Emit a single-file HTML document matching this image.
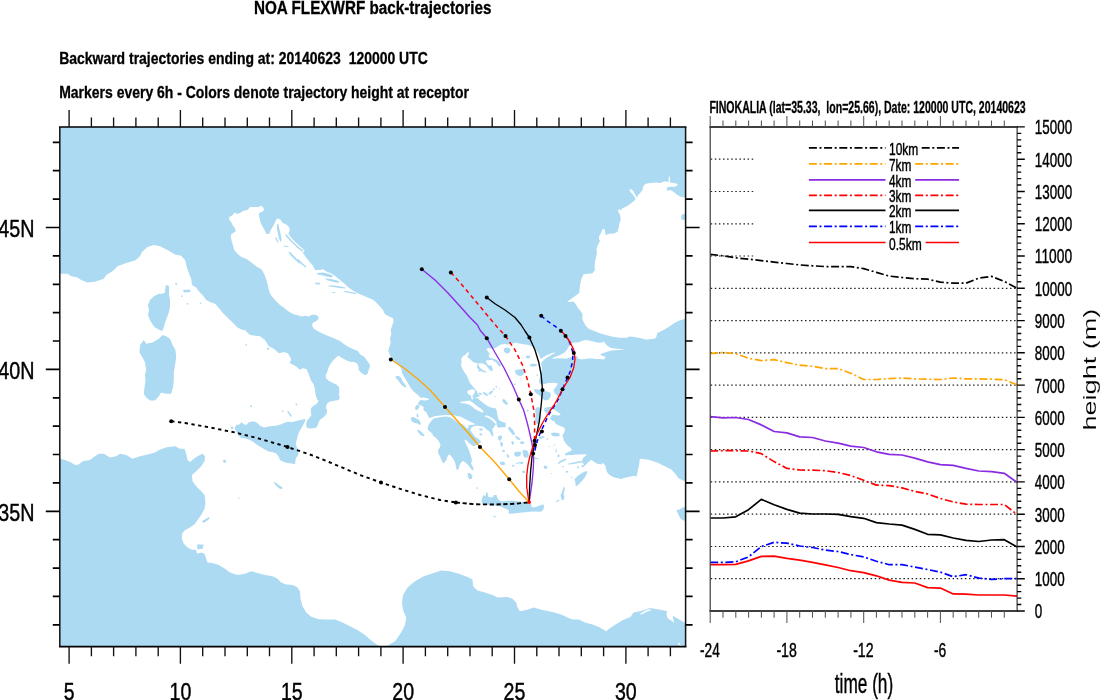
<!DOCTYPE html>
<html><head><meta charset="utf-8"><title>NOA FLEXWRF back-trajectories</title>
<style>html,body{margin:0;padding:0;background:#fff;}body{width:1100px;height:700px;overflow:hidden;}</style></head>
<body>
<svg width="1100" height="700" viewBox="0 0 1100 700" style="display:block;will-change:transform;font-family:'Liberation Sans',sans-serif">
<rect width="1100" height="700" fill="#fff"/>
<defs><clipPath id="mc"><rect x="59.8" y="127.0" width="625.8000000000001" height="519.7"/></clipPath></defs>
<g clip-path="url(#mc)">
<rect x="59.8" y="127.0" width="625.8000000000001" height="519.7" fill="#abdaf2"/>
<path fill="#fff" d="M55.0 273.7 L60.0 273.8 L67.5 273.8 L71.2 276.2 L77.5 277.5 L81.2 280.0 L87.5 282.5 L95.0 281.8 L103.8 278.8 L106.2 275.0 L112.5 271.2 L117.5 266.2 L126.2 263.0 L135.0 260.5 L140.0 256.2 L142.0 252.0 L147.5 247.0 L153.8 245.0 L160.0 246.2 L167.5 250.0 L175.0 254.5 L181.2 255.8 L185.0 260.0 L187.0 267.5 L188.8 273.0 L191.2 278.8 L192.0 285.0 L196.2 287.5 L198.8 291.2 L202.5 295.0 L206.2 300.0 L210.0 302.0 L215.0 303.8 L218.8 308.0 L222.5 312.5 L226.2 316.2 L230.0 320.0 L233.8 323.8 L237.5 327.5 L242.5 330.0 L245.0 330.0 L250.0 335.0 L260.0 336.2 L265.0 340.0 L268.8 346.2 L273.8 348.8 L278.8 353.2 L280.0 352.9 L284.3 352.1 L287.9 353.6 L290.0 356.4 L291.1 359.3 L289.7 362.9 L293.6 365.0 L297.1 367.1 L299.3 369.7 L302.9 368.3 L306.4 368.9 L307.9 372.1 L309.3 375.7 L310.7 380.0 L313.6 384.3 L315.0 389.3 L315.4 394.3 L317.4 400.0 L318.6 400.0 L317.1 403.6 L313.6 405.7 L311.1 407.9 L310.7 411.4 L311.4 415.0 L309.3 417.9 L306.9 420.7 L306.1 425.0 L307.1 427.9 L311.4 428.6 L315.7 427.9 L317.9 425.0 L318.6 422.1 L320.7 419.3 L323.6 417.1 L326.4 414.3 L327.1 410.7 L326.0 407.1 L327.1 403.6 L330.0 401.4 L334.3 400.7 L338.6 400.0 L340.0 397.1 L338.9 395.7 L339.3 391.4 L338.9 387.1 L336.4 384.6 L332.9 382.9 L328.6 380.7 L326.0 377.9 L325.7 375.0 L327.4 371.4 L328.3 367.9 L330.7 363.6 L333.6 360.0 L336.4 357.1 L338.6 355.7 L342.1 357.9 L345.7 360.0 L350.0 361.7 L354.3 362.1 L357.1 363.6 L358.6 367.1 L358.6 370.0 L361.4 372.9 L365.0 375.0 L367.4 374.3 L368.6 370.0 L370.0 366.4 L369.3 363.6 L367.1 360.7 L364.3 357.1 L360.0 354.3 L357.9 351.1 L353.6 349.3 L348.6 347.1 L344.3 344.3 L340.0 341.1 L335.7 338.9 L330.7 337.1 L325.7 335.0 L321.4 332.9 L317.1 330.7 L313.6 328.6 L312.1 325.7 L312.6 322.9 L315.7 321.4 L318.3 319.3 L318.6 316.9 L316.4 315.0 L312.1 314.7 L308.6 316.4 L305.0 315.7 L301.4 316.4 L298.6 315.4 L293.6 314.3 L288.6 311.4 L284.3 307.9 L280.0 305.0 L275.0 300.0 L271.4 295.7 L269.3 291.4 L267.9 285.7 L266.4 280.0 L264.3 274.3 L261.4 269.3 L256.4 266.4 L252.1 262.9 L247.1 259.3 L241.4 257.1 L237.1 253.6 L234.3 250.0 L232.9 245.0 L231.4 240.0 L230.7 235.0 L232.9 232.9 L235.7 231.4 L235.0 227.9 L232.9 225.7 L231.1 222.1 L229.3 220.0 L229.3 217.1 L232.1 215.4 L234.3 212.9 L236.4 212.6 L235.7 214.3 L240.0 212.9 L243.6 210.7 L247.9 209.7 L250.0 207.1 L254.3 206.9 L258.6 207.1 L260.7 205.7 L262.9 206.9 L264.0 209.3 L262.9 211.4 L260.0 212.6 L258.6 214.3 L259.7 218.6 L260.7 222.9 L262.9 227.1 L265.0 230.7 L266.4 234.0 L269.3 234.0 L270.3 230.7 L272.1 227.9 L274.0 224.3 L275.7 220.7 L277.1 218.6 L280.0 219.3 L281.7 221.4 L282.9 222.9 L286.4 224.6 L289.3 227.4 L289.7 230.7 L288.3 233.6 L291.1 237.4 L294.3 241.1 L297.9 244.6 L302.1 247.9 L304.6 250.7 L302.9 252.9 L305.7 257.1 L309.3 261.4 L312.9 265.7 L315.0 270.0 L320.0 270.0 L322.9 269.3 L326.4 271.4 L331.4 273.6 L335.7 276.4 L340.0 280.0 L344.3 283.6 L347.9 287.1 L352.1 290.0 L357.1 292.9 L360.0 294.3 L373.6 300.0 L377.1 303.6 L380.0 306.4 L382.9 310.0 L385.0 314.3 L389.3 316.4 L392.9 317.9 L393.6 321.4 L392.1 325.7 L390.7 330.0 L391.4 334.3 L390.0 338.6 L390.7 342.9 L389.3 347.1 L388.3 351.4 L390.0 355.0 L391.4 357.9 L394.3 361.4 L398.6 365.0 L401.4 368.6 L402.1 372.9 L404.3 377.1 L406.4 380.7 L408.6 384.3 L410.7 387.9 L413.6 391.4 L417.1 394.3 L420.0 397.1 L420.0 397.8 L424.0 397.6 L428.5 398.4 L428.7 400.0 L424.5 400.6 L420.5 400.0 L419.0 401.5 L418.0 404.0 L420.0 405.5 L422.5 405.8 L424.0 408.0 L423.2 409.5 L424.8 411.2 L426.2 412.2 L427.5 414.5 L428.5 417.0 L430.0 418.0 L434.5 416.2 L440.0 415.5 L446.5 415.0 L450.0 415.2 L454.0 415.2 L457.0 416.0 L460.0 416.5 L464.0 418.5 L468.0 420.5 L472.0 422.5 L474.5 423.5 L474.8 424.7 L473.5 424.8 L470.0 425.1 L467.8 425.8 L468.6 427.8 L467.0 428.5 L464.8 426.3 L462.0 424.2 L458.0 422.5 L455.5 420.8 L453.0 419.0 L450.5 417.5 L447.0 416.5 L443.0 416.8 L440.0 417.2 L437.0 417.8 L434.5 418.2 L432.5 419.5 L431.0 421.5 L429.0 424.0 L428.0 426.5 L427.7 429.0 L428.0 430.0 L430.0 431.5 L432.5 434.0 L433.0 436.0 L435.0 437.0 L437.0 439.0 L439.0 441.5 L440.5 444.5 L440.0 447.0 L438.5 449.0 L438.0 451.5 L438.5 454.0 L440.0 456.0 L441.0 459.0 L442.5 462.0 L443.5 463.5 L445.0 461.5 L446.5 460.0 L447.0 457.5 L448.5 455.0 L450.0 454.5 L451.5 456.5 L453.0 458.5 L454.5 461.0 L455.5 464.0 L456.0 467.0 L456.5 469.5 L458.0 470.0 L459.0 468.0 L459.5 465.0 L461.0 462.5 L463.0 461.0 L465.0 462.0 L467.0 464.0 L469.0 466.0 L470.5 468.0 L472.0 470.0 L473.5 470.0 L473.5 468.0 L472.0 465.5 L471.0 463.0 L472.0 461.0 L471.5 458.0 L470.5 455.0 L469.5 452.0 L468.5 449.0 L467.0 446.0 L465.5 443.0 L464.5 440.0 L465.5 439.5 L467.5 441.5 L469.5 443.5 L471.5 445.0 L473.5 446.2 L475.5 445.5 L477.5 444.0 L479.5 443.5 L481.0 442.0 L480.0 440.0 L478.0 439.0 L476.0 437.5 L474.5 436.0 L473.0 434.0 L471.5 432.0 L470.5 430.0 L471.0 428.5 L472.0 427.0 L474.5 426.2 L476.5 425.5 L479.0 426.0 L482.0 426.2 L484.5 427.5 L486.5 429.5 L489.0 431.0 L490.5 433.0 L491.5 435.5 L492.5 436.5 L493.0 436.8 L493.4 434.6 L493.0 432.5 L492.3 430.6 L492.6 428.8 L493.7 427.4 L494.8 425.5 L496.3 424.1 L497.0 425.9 L498.1 427.4 L499.9 427.7 L502.1 427.0 L504.6 427.4 L505.7 426.3 L505.7 424.1 L505.4 422.6 L503.5 422.3 L501.4 421.5 L499.5 420.5 L498.5 419.0 L497.7 416.8 L497.4 414.6 L497.0 412.5 L496.6 410.3 L495.9 408.5 L494.1 408.1 L491.9 407.7 L489.7 407.0 L487.5 405.9 L485.4 404.5 L483.2 403.0 L481.4 401.5 L479.5 399.7 L478.1 398.3 L475.9 397.9 L473.7 398.3 L472.3 399.4 L471.5 398.8 L476.0 397.5 L479.0 396.5 L480.0 395.5 L477.5 393.5 L477.0 391.5 L475.0 389.0 L472.5 386.0 L470.0 383.0 L468.5 379.5 L467.0 376.0 L465.0 373.0 L463.0 370.0 L462.0 368.0 L461.0 365.0 L461.5 362.0 L461.2 359.0 L462.5 356.5 L465.0 355.0 L467.0 353.0 L468.0 352.0 L468.6 352.2 L468.8 354.5 L467.0 356.8 L469.0 358.2 L471.0 360.0 L473.0 362.0 L475.0 362.8 L477.0 363.0 L477.5 364.5 L476.8 367.0 L477.5 368.5 L479.0 369.5 L478.0 371.2 L479.5 371.5 L481.0 371.0 L483.0 372.0 L485.0 372.5 L486.8 372.5 L486.0 371.5 L484.0 370.5 L482.0 369.5 L480.5 368.2 L479.2 366.5 L478.5 365.0 L478.0 363.8 L479.0 363.2 L481.0 363.2 L483.0 363.5 L484.5 364.2 L486.0 365.0 L487.0 366.5 L488.0 368.0 L489.5 369.5 L491.0 371.0 L492.0 371.2 L492.8 370.0 L492.5 368.5 L491.8 367.0 L492.0 365.8 L490.5 365.5 L489.0 365.5 L487.8 364.8 L487.0 363.5 L486.2 362.0 L486.0 360.8 L487.0 360.2 L489.0 360.2 L491.0 360.0 L492.0 359.5 L493.0 360.5 L494.5 361.5 L496.0 362.2 L497.0 363.5 L498.0 365.0 L499.2 366.5 L500.5 366.0 L501.0 364.8 L500.0 363.5 L499.0 362.0 L497.8 360.8 L496.5 359.8 L495.0 359.2 L493.5 358.8 L492.0 358.2 L490.5 358.0 L489.2 357.5 L488.5 356.2 L489.0 355.0 L489.8 354.0 L489.0 353.0 L488.0 351.5 L487.0 350.2 L486.5 349.2 L487.5 348.2 L489.2 348.0 L491.0 348.5 L492.5 348.8 L494.5 348.2 L496.5 347.2 L498.5 346.0 L499.5 345.0 L501.5 344.5 L504.5 344.0 L507.0 344.5 L510.0 344.0 L513.5 343.5 L516.0 342.5 L519.0 343.5 L522.0 344.0 L525.5 344.5 L528.5 345.0 L531.5 346.0 L534.0 347.5 L536.0 349.5 L537.5 352.0 L539.0 354.5 L540.0 357.5 L540.5 359.0 L543.0 357.5 L546.0 355.5 L549.5 354.0 L553.0 352.8 L555.0 352.5 L554.5 353.5 L551.5 355.0 L548.0 357.0 L545.0 359.0 L542.5 361.2 L541.0 363.5 L541.5 365.0 L542.0 368.0 L541.5 371.0 L541.0 374.0 L540.0 376.5 L539.5 379.0 L539.0 382.0 L539.5 383.5 L544.0 384.0 L549.0 383.0 L554.0 382.8 L558.0 383.5 L557.0 385.5 L555.0 388.0 L553.5 390.0 L554.5 393.0 L556.5 395.0 L559.0 398.0 L559.5 401.0 L557.5 403.0 L556.0 404.5 L555.0 407.0 L553.0 409.0 L553.0 409.0 L555.0 410.0 L557.5 412.0 L560.0 413.5 L560.5 415.0 L558.0 415.5 L555.0 415.0 L552.5 414.5 L551.0 416.5 L550.0 419.0 L552.0 420.5 L554.5 421.2 L555.5 423.5 L558.0 425.0 L562.0 426.5 L564.5 428.0 L565.0 430.5 L564.0 433.0 L562.5 435.0 L563.0 437.5 L564.0 440.5 L565.5 443.0 L567.0 445.0 L569.5 447.0 L572.0 449.5 L571.0 451.0 L568.0 452.0 L565.5 453.5 L564.0 455.0 L564.5 454.5 L566.0 455.5 L569.0 455.0 L572.0 455.0 L576.0 454.5 L580.0 454.5 L584.0 454.2 L587.0 454.5 L585.5 456.0 L583.5 457.5 L582.5 459.5 L582.0 461.5 L580.0 461.0 L576.0 462.0 L572.0 462.8 L568.5 463.5 L568.0 464.5 L572.0 464.2 L576.0 463.5 L580.0 462.8 L582.5 462.5 L584.0 464.5 L582.5 466.5 L581.5 467.5 L584.0 466.5 L586.0 464.5 L588.0 462.5 L590.0 460.8 L591.5 459.8 L593.0 461.0 L595.0 462.5 L598.0 464.0 L601.0 464.5 L602.5 463.0 L604.0 464.0 L605.5 466.0 L606.0 469.0 L607.0 472.0 L608.5 474.0 L610.5 475.5 L613.0 477.0 L616.0 477.8 L619.0 478.5 L621.0 479.0 L624.0 478.0 L627.0 477.2 L630.0 476.8 L634.0 475.8 L636.6 476.6 L637.8 470.8 L639.1 464.4 L639.8 459.3 L641.0 458.8 L649.4 459.9 L657.1 462.5 L664.8 466.3 L671.3 469.6 L675.1 473.4 L678.3 477.9 L682.8 480.5 L690.0 482.0 L690.0 624.0 L685.4 623.0 L680.0 620.0 L672.5 615.5 L666.5 611.0 L659.0 609.5 L650.0 608.0 L641.0 611.0 L633.5 612.5 L630.5 617.0 L623.0 620.0 L615.5 624.5 L609.5 628.4 L606.2 631.2 L600.0 627.5 L592.5 624.5 L585.0 622.5 L578.8 619.5 L572.5 619.5 L567.5 617.5 L561.2 614.5 L552.5 612.0 L542.5 610.0 L533.8 607.5 L526.2 610.0 L520.0 611.2 L517.5 607.5 L516.2 602.5 L512.5 598.8 L507.5 597.0 L497.5 597.5 L492.5 595.0 L485.0 592.5 L477.5 590.5 L473.0 586.2 L472.5 579.5 L467.5 577.0 L458.8 573.8 L450.0 571.2 L441.2 570.5 L433.8 573.0 L423.8 576.2 L415.0 581.2 L407.5 587.5 L403.0 595.0 L402.0 602.5 L403.0 610.0 L406.2 617.5 L405.0 625.0 L401.2 632.5 L395.0 641.2 L387.5 645.8 L381.2 646.2 L377.5 645.0 L371.2 640.5 L365.0 635.0 L357.5 630.0 L350.0 626.2 L342.5 622.5 L335.0 619.5 L327.5 619.5 L318.8 619.2 L311.2 616.8 L306.2 612.5 L302.5 606.2 L300.5 598.8 L300.0 591.2 L297.0 587.0 L292.5 585.0 L286.2 584.5 L281.2 582.5 L277.5 578.8 L272.5 576.2 L265.0 575.0 L257.5 573.0 L251.2 571.2 L245.0 573.8 L237.5 575.0 L230.0 572.5 L225.0 568.8 L218.8 565.0 L212.5 563.0 L207.5 562.5 L206.2 558.8 L204.5 553.8 L201.2 552.5 L197.0 553.8 L196.2 550.0 L191.2 549.5 L187.5 547.5 L183.8 543.8 L181.8 538.8 L182.0 533.8 L185.0 530.0 L190.0 527.5 L195.0 523.8 L197.5 520.0 L201.2 515.0 L204.5 508.8 L205.5 502.5 L204.5 495.0 L201.2 491.2 L196.2 486.2 L192.5 481.2 L192.0 475.0 L196.2 471.2 L201.2 466.2 L204.5 461.2 L205.0 456.2 L202.5 453.8 L197.5 456.2 L193.8 458.8 L190.0 462.0 L187.5 460.0 L186.2 453.8 L184.5 448.8 L180.0 448.8 L175.0 446.2 L167.5 447.0 L160.0 449.5 L155.0 452.5 L147.5 454.5 L140.0 456.2 L132.5 458.8 L126.2 455.0 L120.0 453.8 L116.2 456.2 L110.0 457.5 L103.8 453.8 L98.8 453.8 L95.0 456.2 L90.0 460.0 L82.5 461.2 L78.8 464.5 L75.0 465.0 L71.2 462.5 L65.0 460.0 L60.0 458.8 L55.0 458.8Z"/>
<path fill="#fff" d="M685.8 197.4 L681.1 197.0 L677.1 194.7 L673.2 191.5 L670.1 190.0 L666.9 190.8 L666.9 187.6 L670.1 186.8 L674.8 186.8 L677.6 185.3 L677.1 183.7 L673.2 182.9 L670.1 182.6 L669.7 176.6 L668.8 176.6 L668.5 182.1 L664.6 181.3 L660.6 182.9 L655.9 182.6 L650.4 182.9 L645.7 183.7 L643.3 186.0 L642.5 190.0 L640.2 193.1 L637.8 195.5 L637.0 197.8 L635.5 195.2 L633.9 192.0 L631.5 189.2 L629.5 189.2 L630.0 191.5 L632.3 193.9 L634.7 197.0 L635.5 199.4 L633.1 201.8 L630.0 204.1 L626.8 206.2 L622.9 208.1 L620.5 210.4 L619.0 208.8 L617.9 211.2 L619.4 213.6 L620.5 216.7 L620.5 220.6 L619.0 224.6 L618.5 230.1 L618.5 227.9 L617.4 231.8 L614.2 233.4 L609.5 233.8 L605.6 234.9 L604.8 229.4 L602.5 229.1 L601.2 232.6 L599.0 236.5 L599.0 240.4 L600.6 240.1 L597.7 245.2 L596.5 249.1 L596.9 253.0 L595.8 257.7 L594.9 262.5 L594.6 267.2 L594.9 270.3 L592.2 273.5 L587.5 273.8 L583.6 274.2 L581.7 278.2 L580.4 282.9 L579.7 287.6 L579.2 293.1 L575.7 295.5 L571.8 298.6 L567.1 301.4 L569.4 301.9 L573.4 301.6 L575.7 303.9 L578.1 308.2 L581.2 311.8 L582.8 314.9 L582.0 318.1 L583.6 322.0 L585.9 325.9 L589.1 329.1 L593.8 330.7 L598.5 332.7 L603.2 334.3 L608.7 335.8 L614.2 336.9 L619.7 337.7 L626.0 337.7 L630.0 336.5 L633.9 336.9 L638.6 337.7 L641.8 338.5 L645.7 339.6 L650.4 339.3 L655.1 338.5 L656.7 336.2 L657.2 333.0 L660.6 331.4 L665.3 329.1 L670.1 325.9 L674.8 322.8 L679.5 320.4 L690.5 317.0Z"/>
<path fill="#fff" d="M552.5 358.0 L556.0 356.5 L560.0 355.0 L564.0 353.0 L566.5 350.5 L568.0 348.0 L569.5 345.5 L571.0 343.5 L574.0 342.5 L578.0 342.5 L582.0 341.0 L585.0 340.0 L589.0 340.5 L593.0 341.5 L597.0 342.5 L601.0 342.8 L603.5 341.5 L605.0 343.0 L606.5 345.0 L608.5 346.5 L611.0 348.0 L615.0 348.5 L620.0 349.0 L624.5 349.3 L620.0 350.0 L615.0 350.2 L611.5 350.5 L608.0 351.5 L605.0 352.5 L602.0 353.5 L600.0 354.5 L602.0 355.8 L605.0 356.5 L605.5 358.0 L603.5 359.5 L600.0 359.0 L596.0 359.0 L592.0 358.5 L588.0 358.5 L584.5 359.0 L581.0 359.5 L578.0 358.5 L577.0 356.5 L575.5 355.8 L573.0 356.2 L570.0 357.5 L567.0 358.5 L564.0 358.5 L560.0 358.2 L556.0 358.5 L552.5 358.8Z"/>
<path fill="#abdaf2" d="M686.2 217.0 L685.7 218.9 L684.4 220.0 L682.8 220.0 L681.5 218.9 L681.0 217.0 L681.5 215.1 L682.8 214.0 L684.4 214.0 L685.7 215.1Z"/>
<path fill="#abdaf2" d="M167.0 285.0 L165.5 286.2 L165.0 292.5 L162.5 293.8 L158.8 293.8 L153.8 296.2 L150.0 300.0 L148.0 305.0 L149.0 310.0 L148.0 315.0 L150.0 320.0 L152.0 323.8 L155.0 327.5 L158.8 329.5 L162.0 331.2 L163.8 327.5 L165.0 322.5 L167.0 317.5 L168.8 312.5 L170.0 307.5 L170.0 300.0 L169.0 295.0 L169.0 286.2Z"/>
<path fill="#abdaf2" d="M143.8 340.0 L140.0 345.0 L139.5 352.5 L142.5 357.5 L145.0 362.5 L146.2 370.0 L145.0 375.0 L145.5 380.0 L144.5 387.5 L143.8 393.8 L146.2 397.5 L150.0 400.5 L155.0 400.5 L158.8 396.2 L161.2 392.5 L166.2 393.8 L171.2 393.8 L173.0 387.5 L173.8 380.0 L173.8 372.5 L175.0 365.0 L176.2 357.5 L175.5 350.0 L172.5 345.0 L170.0 338.8 L166.2 336.2 L162.5 335.0 L158.8 338.8 L152.5 342.5 L146.2 343.8Z"/>
<path fill="#abdaf2" d="M235.0 427.1 L236.4 425.0 L240.0 424.3 L241.4 422.1 L243.6 424.3 L246.4 425.0 L248.6 422.6 L251.4 421.4 L255.0 421.7 L257.9 423.6 L260.0 425.7 L264.3 427.4 L268.6 426.4 L272.9 426.0 L277.1 425.4 L281.4 424.3 L285.0 422.6 L288.6 421.7 L292.9 422.1 L297.1 420.7 L301.4 419.7 L305.0 419.0 L305.4 420.7 L303.6 424.3 L301.4 427.9 L299.3 431.4 L297.9 435.0 L296.9 439.3 L295.7 443.6 L296.4 446.4 L297.9 449.3 L298.6 452.9 L297.9 455.7 L295.7 458.6 L295.0 464.3 L292.1 463.6 L287.1 462.9 L282.9 461.4 L280.0 460.0 L278.6 456.4 L276.4 453.6 L272.1 452.1 L268.6 451.4 L264.3 449.3 L260.7 447.1 L257.1 445.0 L253.6 442.1 L250.0 440.0 L245.7 438.6 L241.4 437.9 L238.6 435.7 L236.4 432.1 L235.0 429.3Z"/>
<path fill="#abdaf2" d="M274.0 482.1 L276.4 482.9 L278.6 485.0 L282.1 487.1 L282.1 489.3 L279.3 488.6 L276.4 485.7 L274.3 483.6Z"/>
<path fill="#abdaf2" d="M226.2 461.2 L225.9 462.1 L225.1 462.7 L224.1 462.7 L223.3 462.1 L223.0 461.2 L223.3 460.3 L224.1 459.7 L225.1 459.7 L225.9 460.3Z"/>
<path fill="#abdaf2" d="M197.0 544.5 L203.8 544.5 L202.5 548.8 L197.5 549.5Z"/>
<path fill="#abdaf2" d="M202.0 521.2 L208.8 517.0 L209.5 518.8 L203.8 523.0Z"/>
<path fill="#abdaf2" d="M481.5 501.5 L482.0 499.0 L483.0 496.0 L484.0 495.0 L485.5 496.5 L486.0 492.5 L487.5 492.5 L488.0 496.5 L490.0 497.5 L493.0 497.0 L494.0 495.0 L496.5 495.0 L497.2 497.5 L498.5 500.0 L501.0 501.2 L504.5 501.2 L508.0 500.8 L512.0 500.8 L516.0 501.2 L520.0 501.5 L524.0 502.2 L528.0 503.0 L531.0 504.0 L531.5 507.0 L534.0 507.5 L537.0 506.5 L540.0 505.5 L542.5 504.5 L543.8 505.0 L544.0 507.5 L543.0 510.0 L541.5 511.5 L539.0 511.8 L536.0 511.5 L533.0 511.5 L530.0 511.8 L526.0 512.2 L522.0 512.5 L518.0 513.0 L514.0 513.5 L510.0 513.8 L508.5 513.0 L508.8 510.5 L507.5 509.5 L505.0 508.5 L502.0 507.0 L499.0 506.0 L495.0 505.5 L491.0 505.0 L487.0 504.5 L483.5 504.0 L481.8 503.0Z"/>
<path fill="#abdaf2" d="M493.0 515.8 L496.0 516.2 L495.8 517.2 L493.5 517.0Z"/>
<path fill="#abdaf2" d="M563.5 487.0 L564.8 487.5 L564.5 491.0 L563.5 494.0 L564.5 496.5 L563.5 500.0 L562.0 500.5 L561.0 497.5 L560.5 495.0 L562.0 492.5 L562.8 489.5Z"/>
<path fill="#abdaf2" d="M555.5 501.8 L559.0 499.5 L559.5 500.5 L557.0 502.2Z"/>
<path fill="#abdaf2" d="M676.4 510.3 L679.6 509.4 L682.8 507.5 L690.0 505.5 L690.0 522.0 L682.8 520.3 L680.3 518.4 L678.3 514.6Z"/>
<path fill="#abdaf2" d="M574.5 479.5 L576.5 477.0 L579.0 475.0 L582.0 473.0 L585.0 471.5 L587.0 471.0 L587.2 473.0 L586.0 475.5 L584.0 478.5 L581.5 481.5 L579.0 484.0 L577.0 486.0 L575.5 485.5 L575.5 483.0Z"/>
<path fill="#abdaf2" d="M558.0 463.0 L560.0 461.0 L563.0 459.5 L566.0 458.5 L566.5 459.5 L564.0 461.0 L561.0 462.5 L558.5 464.2Z"/>
<path fill="#abdaf2" d="M395.4 376.4 L398.6 375.7 L401.4 377.9 L402.1 380.7 L404.3 383.6 L406.4 386.4 L405.0 387.4 L402.1 385.4 L400.0 382.9 L397.9 380.0 L395.7 377.9Z"/>
<path fill="#abdaf2" d="M416.0 405.5 L418.0 404.5 L419.5 406.2 L418.5 408.5 L417.0 410.0 L415.5 410.0 L415.0 408.0Z"/>
<path fill="#abdaf2" d="M411.0 417.5 L413.5 417.0 L416.0 418.5 L418.5 419.5 L420.0 421.5 L421.0 424.0 L419.5 425.0 L417.5 423.5 L415.0 423.0 L412.5 422.0 L411.0 420.0Z"/>
<path fill="#abdaf2" d="M416.5 414.0 L417.8 413.5 L418.5 416.0 L417.8 418.0 L416.8 416.5Z"/>
<path fill="#abdaf2" d="M417.0 429.5 L419.0 430.0 L421.5 432.0 L424.0 434.5 L424.5 436.0 L422.5 436.0 L420.0 434.5 L418.0 432.0Z"/>
<path fill="#abdaf2" d="M467.5 473.5 L470.0 473.0 L472.5 476.0 L472.0 478.5 L469.5 479.5 L468.0 477.0Z"/>
<path fill="#abdaf2" d="M476.2 487.5 L477.8 487.5 L477.8 488.8 L476.2 488.8Z"/>
<path fill="#abdaf2" d="M508.0 427.5 L510.0 427.0 L512.5 429.5 L514.5 432.5 L514.8 435.0 L513.0 435.0 L510.5 432.0 L508.5 429.5Z"/>
<path fill="#abdaf2" d="M515.0 436.0 L517.5 436.5 L520.5 439.0 L520.0 440.2 L517.5 439.5 L515.5 437.5Z"/>
<path fill="#abdaf2" d="M498.0 436.2 L500.0 435.5 L502.0 436.0 L501.8 438.2 L500.6 440.5 L499.2 440.8 L498.2 439.0Z"/>
<path fill="#abdaf2" d="M500.5 441.5 L502.5 442.5 L503.0 445.0 L502.0 447.0 L500.8 446.0 L500.3 443.5Z"/>
<path fill="#abdaf2" d="M511.5 441.0 L513.5 441.5 L514.0 444.0 L512.5 445.0 L511.5 443.2Z"/>
<path fill="#abdaf2" d="M520.0 441.8 L523.0 441.2 L524.5 442.8 L523.0 444.2 L520.5 443.8Z"/>
<path fill="#abdaf2" d="M502.0 450.0 L504.5 450.0 L505.0 451.8 L502.8 452.2Z"/>
<path fill="#abdaf2" d="M506.5 454.5 L508.5 454.5 L509.5 457.0 L507.8 457.8 L506.8 456.2Z"/>
<path fill="#abdaf2" d="M514.5 452.5 L517.5 451.5 L521.0 452.0 L520.8 455.0 L519.0 456.5 L515.5 456.5 L514.0 454.5Z"/>
<path fill="#abdaf2" d="M523.0 450.0 L526.0 450.0 L528.2 451.5 L528.8 455.0 L527.5 457.5 L524.5 457.5 L523.0 455.0 L522.5 452.0Z"/>
<path fill="#abdaf2" d="M500.0 462.0 L503.0 461.5 L505.2 463.0 L504.5 465.0 L501.5 465.0 L500.0 463.8Z"/>
<path fill="#abdaf2" d="M512.0 465.0 L514.0 464.8 L514.5 466.5 L512.5 466.8Z"/>
<path fill="#abdaf2" d="M516.0 463.0 L520.0 462.0 L523.5 461.8 L523.0 462.8 L519.5 463.2 L516.5 464.0Z"/>
<path fill="#abdaf2" d="M522.5 471.0 L524.5 470.8 L525.2 472.8 L523.0 473.2Z"/>
<path fill="#abdaf2" d="M534.0 389.0 L538.0 389.5 L542.0 390.5 L545.5 391.0 L550.0 392.5 L551.0 395.0 L550.0 398.0 L548.0 400.0 L545.0 400.5 L543.0 399.0 L541.0 397.0 L539.0 395.0 L536.5 393.5 L534.5 391.5Z"/>
<path fill="#abdaf2" d="M515.5 370.0 L519.0 369.5 L523.0 369.0 L524.5 370.0 L524.0 373.0 L523.0 375.0 L521.0 376.0 L518.0 375.5 L516.0 374.0 L515.0 372.0Z"/>
<path fill="#abdaf2" d="M504.0 348.5 L507.0 347.5 L510.0 348.5 L510.5 351.0 L509.0 353.0 L506.0 353.5 L503.8 351.5Z"/>
<path fill="#abdaf2" d="M525.5 356.0 L529.0 355.5 L530.5 357.0 L529.0 358.5 L526.5 358.2Z"/>
<path fill="#abdaf2" d="M529.5 364.5 L533.0 363.8 L536.5 364.0 L537.0 365.5 L534.5 366.5 L531.0 366.5Z"/>
<path fill="#abdaf2" d="M536.5 374.5 L538.2 374.5 L538.2 375.7 L536.5 375.7Z"/>
<path fill="#abdaf2" d="M514.0 383.5 L515.5 383.5 L515.5 385.0 L514.0 385.0Z"/>
<path fill="#abdaf2" d="M502.1 399.7 L503.9 399.0 L505.7 400.5 L507.5 403.0 L507.9 404.5 L506.5 404.8 L504.6 403.7 L502.8 401.9Z"/>
<path fill="#abdaf2" d="M535.0 410.0 L536.5 407.5 L539.0 407.0 L540.5 410.0 L540.0 414.0 L540.5 418.0 L539.5 422.0 L537.5 424.2 L535.5 423.0 L535.0 419.0 L535.8 415.0Z"/>
<path fill="#abdaf2" d="M544.5 408.0 L547.5 407.2 L551.0 406.8 L554.5 406.8 L553.5 409.0 L551.0 410.0 L550.0 411.8 L548.0 413.0 L545.5 412.5 L544.0 410.5Z"/>
<path fill="#abdaf2" d="M550.5 433.5 L554.0 432.5 L558.0 433.0 L560.0 434.5 L559.5 436.0 L556.0 436.5 L552.5 436.0Z"/>
<path fill="#abdaf2" d="M538.5 437.0 L544.0 436.0 L544.5 437.5 L540.0 439.0Z"/>
<path fill="#abdaf2" d="M277.1 224.6 L278.3 223.6 L279.3 228.6 L280.7 234.3 L281.7 239.3 L280.7 242.1 L278.9 238.6 L277.9 233.6 L276.9 228.6Z"/>
<path fill="#abdaf2" d="M285.0 234.3 L287.1 235.0 L291.4 240.0 L295.7 244.3 L300.0 247.9 L303.6 250.7 L302.1 251.4 L297.9 248.6 L293.6 244.3 L289.3 240.0 L286.0 236.4Z"/>
<path fill="#abdaf2" d="M275.0 237.4 L276.4 237.4 L278.6 242.1 L277.4 242.6Z"/>
<path fill="#abdaf2" d="M283.6 245.4 L288.3 246.0 L288.3 247.1 L283.6 246.6Z"/>
<path fill="#abdaf2" d="M288.3 251.7 L290.0 251.7 L294.3 256.4 L298.6 260.7 L300.7 262.9 L299.3 263.6 L295.0 259.7 L290.7 255.4Z"/>
<path fill="#abdaf2" d="M296.9 259.3 L298.6 259.3 L302.9 263.6 L306.4 266.4 L305.4 267.4 L301.4 264.3Z"/>
<path fill="#abdaf2" d="M317.1 273.1 L322.9 272.6 L329.3 274.0 L332.9 275.7 L332.1 277.4 L326.4 276.4 L320.7 275.0 L317.4 274.6Z"/>
<path fill="#abdaf2" d="M325.0 278.3 L330.7 278.9 L336.4 280.3 L339.3 281.7 L338.3 282.9 L332.9 281.7 L327.1 280.3Z"/>
<path fill="#abdaf2" d="M328.6 285.4 L334.3 285.4 L340.7 286.4 L345.7 287.4 L345.0 288.6 L339.3 287.9 L333.6 287.1 L328.9 286.6Z"/>
<path fill="#abdaf2" d="M315.0 282.6 L320.0 282.9 L320.0 284.6 L315.4 284.3Z"/>
<path fill="#abdaf2" d="M332.1 291.9 L335.1 292.1 L335.0 293.1 L332.3 292.9Z"/>
<path fill="#abdaf2" d="M344.3 290.7 L350.0 291.7 L356.4 293.1 L356.0 294.3 L349.3 293.1 L344.3 291.9Z"/>
<path fill="#abdaf2" d="M183.0 290.0 L190.0 289.5 L190.5 292.0 L183.8 292.5Z"/>
<path fill="#abdaf2" d="M177.2 283.8 L176.9 284.5 L176.2 284.8 L175.5 284.5 L175.2 283.8 L175.5 283.1 L176.2 282.8 L176.9 283.1Z"/>
<path fill="#abdaf2" d="M188.4 303.8 L188.1 304.4 L187.5 304.7 L186.9 304.4 L186.6 303.8 L186.9 303.2 L187.5 302.9 L188.1 303.2Z"/>
<path fill="#abdaf2" d="M182.8 296.2 L182.6 296.8 L182.0 297.0 L181.4 296.8 L181.2 296.2 L181.4 295.6 L182.0 295.4 L182.6 295.6Z"/>
<path fill="#abdaf2" d="M201.4 303.3 L201.1 303.9 L200.5 304.2 L199.9 303.9 L199.6 303.3 L199.9 302.7 L200.5 302.4 L201.1 302.7Z"/>
<path fill="#abdaf2" d="M269.1 348.8 L268.8 349.6 L268.0 349.9 L267.2 349.6 L266.9 348.8 L267.2 348.0 L268.0 347.7 L268.8 348.0Z"/>
<path fill="#abdaf2" d="M247.1 345.0 L246.8 345.6 L246.2 345.9 L245.6 345.6 L245.3 345.0 L245.6 344.4 L246.2 344.1 L246.8 344.4Z"/>
<path fill="#abdaf2" d="M252.1 406.3 L251.8 407.0 L251.1 407.3 L250.4 407.0 L250.1 406.3 L250.4 405.6 L251.1 405.3 L251.8 405.6Z"/>
<path fill="#abdaf2" d="M297.4 404.4 L297.1 405.1 L296.4 405.4 L295.7 405.1 L295.4 404.4 L295.7 403.7 L296.4 403.4 L297.1 403.7Z"/>
<path fill="#abdaf2" d="M283.4 411.1 L283.2 411.7 L282.6 411.9 L282.0 411.7 L281.8 411.1 L282.0 410.5 L282.6 410.3 L283.2 410.5Z"/>
<path fill="#abdaf2" d="M233.4 427.9 L233.0 428.8 L232.1 429.2 L231.2 428.8 L230.8 427.9 L231.2 427.0 L232.1 426.6 L233.0 427.0Z"/>
<path fill="#abdaf2" d="M287.4 411.9 L287.7 411.1 L288.6 411.1 L291.9 415.9 L291.6 416.7 L290.7 416.7Z"/>
<path fill="#abdaf2" d="M478.8 394.0 L478.6 392.9 L479.6 392.4 L481.6 393.4 L481.8 394.5 L480.8 395.0Z"/>
<path fill="#abdaf2" d="M482.9 393.6 L482.9 392.4 L484.1 392.0 L487.8 394.5 L487.8 395.7 L486.6 396.1Z"/>
<path fill="#abdaf2" d="M490.0 394.7 L488.8 394.5 L488.6 393.3 L491.6 390.5 L492.8 390.7 L493.0 391.9Z"/>
<path fill="#abdaf2" d="M494.8 389.1 L494.5 389.7 L493.8 390.0 L493.1 389.7 L492.8 389.1 L493.1 388.5 L493.8 388.2 L494.5 388.5Z"/>
<path fill="#abdaf2" d="M497.4 386.9 L497.1 387.5 L496.4 387.8 L495.7 387.5 L495.4 386.9 L495.7 386.3 L496.4 386.0 L497.1 386.3Z"/>
<path fill="#abdaf2" d="M499.8 388.3 L499.5 388.8 L498.9 388.8 L498.6 388.3 L498.9 387.8 L499.5 387.8Z"/>
<path fill="#abdaf2" d="M495.6 396.5 L495.2 397.0 L494.4 397.0 L494.0 396.5 L494.4 396.0 L495.2 396.0Z"/>
<path fill="#abdaf2" d="M528.7 410.7 L528.4 411.5 L527.6 411.8 L526.8 411.5 L526.5 410.7 L526.8 409.9 L527.6 409.6 L528.4 409.9Z"/>
<path fill="#abdaf2" d="M563.9 466.7 L563.7 467.1 L563.3 467.4 L562.7 467.4 L562.3 467.1 L562.1 466.7 L562.3 466.3 L562.7 466.0 L563.3 466.0 L563.7 466.3Z"/>
<path fill="#abdaf2" d="M568.3 471.7 L568.1 472.3 L567.4 472.7 L566.6 472.7 L565.9 472.3 L565.7 471.7 L565.9 471.1 L566.6 470.7 L567.4 470.7 L568.1 471.1Z"/>
<path fill="#abdaf2" d="M579.0 467.2 L578.8 467.8 L578.3 468.2 L577.7 468.2 L577.2 467.8 L577.0 467.2 L577.2 466.6 L577.7 466.2 L578.3 466.2 L578.8 466.6Z"/>
<path fill="#abdaf2" d="M583.7 466.0 L583.5 466.8 L583.0 467.2 L582.4 467.2 L581.9 466.8 L581.7 466.0 L581.9 465.2 L582.4 464.8 L583.0 464.8 L583.5 465.2Z"/>
<path fill="#abdaf2" d="M572.8 477.3 L572.6 477.6 L572.0 477.8 L571.4 477.8 L570.8 477.6 L570.6 477.3 L570.8 477.0 L571.4 476.8 L572.0 476.8 L572.6 477.0Z"/>
<path fill="#abdaf2" d="M552.4 473.5 L552.3 473.8 L551.9 474.0 L551.5 474.0 L551.1 473.8 L551.0 473.5 L551.1 473.2 L551.5 473.0 L551.9 473.0 L552.3 473.2Z"/>
<path fill="#abdaf2" d="M559.6 455.8 L559.4 456.7 L558.8 457.2 L558.2 457.2 L557.6 456.7 L557.4 455.8 L557.6 454.9 L558.2 454.4 L558.8 454.4 L559.4 454.9Z"/>
<path fill="#abdaf2" d="M556.6 451.5 L556.5 452.2 L556.2 452.6 L555.8 452.6 L555.5 452.2 L555.4 451.5 L555.5 450.8 L555.8 450.4 L556.2 450.4 L556.5 450.8Z"/>
<path fill="#abdaf2" d="M550.0 446.5 L549.8 446.8 L549.4 447.0 L549.0 447.0 L548.6 446.8 L548.4 446.5 L548.6 446.2 L549.0 446.0 L549.4 446.0 L549.8 446.2Z"/>
<path fill="#abdaf2" d="M552.6 446.5 L552.5 446.7 L552.3 446.9 L552.1 446.9 L551.9 446.7 L551.8 446.5 L551.9 446.3 L552.1 446.1 L552.3 446.1 L552.5 446.3Z"/>
<path fill="#abdaf2" d="M531.5 452.5 L531.4 452.8 L531.0 453.0 L530.6 453.0 L530.2 452.8 L530.1 452.5 L530.2 452.2 L530.6 452.0 L531.0 452.0 L531.4 452.2Z"/>
<path fill="#abdaf2" d="M524.8 471.8 L524.6 472.4 L523.9 472.8 L523.1 472.8 L522.4 472.4 L522.2 471.8 L522.4 471.2 L523.1 470.8 L523.9 470.8 L524.6 471.2Z"/>
<path fill="#abdaf2" d="M523.4 463.2 L523.1 463.8 L522.3 464.2 L521.3 464.2 L520.5 463.8 L520.2 463.2 L520.5 462.6 L521.3 462.2 L522.3 462.2 L523.1 462.6Z"/>
<path fill="#abdaf2" d="M543.5 466.5 L545.5 465.5 L547.5 466.5 L547.0 468.5 L545.0 469.0 L543.8 468.0Z"/>
<path fill="#abdaf2" d="M534.8 458.4 L534.6 457.7 L535.2 457.2 L538.7 458.4 L538.9 459.1 L538.3 459.6Z"/>
<path fill="#abdaf2" d="M548.4 439.0 L548.2 439.4 L547.8 439.7 L547.2 439.7 L546.8 439.4 L546.6 439.0 L546.8 438.6 L547.2 438.3 L547.8 438.3 L548.2 438.6Z"/>
<path fill="#abdaf2" d="M555.1 445.0 L555.0 445.5 L554.7 445.8 L554.3 445.8 L554.0 445.5 L553.9 445.0 L554.0 444.5 L554.3 444.2 L554.7 444.2 L555.0 444.5Z"/>
<path fill="#abdaf2" d="M556.8 450.0 L556.7 450.5 L556.4 450.9 L556.0 450.9 L555.7 450.5 L555.6 450.0 L555.7 449.5 L556.0 449.1 L556.4 449.1 L556.7 449.5Z"/>
<path fill="#abdaf2" d="M482.4 434.5 L482.1 435.2 L481.3 435.6 L480.4 435.6 L479.6 435.2 L479.2 434.5 L479.6 433.8 L480.4 433.4 L481.3 433.4 L482.1 433.8Z"/>
<path fill="#abdaf2" d="M478.4 438.2 L478.2 438.5 L477.8 438.7 L477.2 438.7 L476.8 438.5 L476.6 438.2 L476.8 437.9 L477.2 437.7 L477.8 437.7 L478.2 437.9Z"/>
<path fill="#abdaf2" d="M474.6 448.2 L474.5 448.5 L474.2 448.7 L473.8 448.7 L473.5 448.5 L473.4 448.2 L473.5 447.9 L473.8 447.7 L474.2 447.7 L474.5 447.9Z"/>
<path fill="#abdaf2" d="M483.0 429.4 L482.6 430.0 L481.6 430.4 L480.4 430.4 L479.4 430.0 L479.0 429.4 L479.4 428.8 L480.4 428.4 L481.6 428.4 L482.6 428.8Z"/>
<path fill="#abdaf2" d="M239.6 498.0 L239.3 498.5 L238.8 498.7 L238.2 498.5 L237.9 498.0 L238.2 497.5 L238.8 497.3 L239.3 497.5Z"/>
<path fill="#fff" d="M460.5 401.8 L465.0 401.2 L469.5 400.5 L472.0 402.0 L474.5 404.0 L477.0 406.0 L480.0 408.0 L482.5 410.0 L483.8 412.0 L482.0 412.5 L478.5 411.0 L475.0 409.0 L472.0 406.5 L469.0 404.5 L465.0 403.5 L460.5 403.0Z"/>
<path fill="#fff" d="M485.0 415.4 L486.8 415.5 L489.0 416.2 L491.2 417.4 L493.0 418.6 L494.5 420.1 L495.9 421.5 L496.6 423.0 L496.3 424.2 L494.5 423.0 L493.0 421.2 L491.2 419.7 L489.0 418.3 L486.8 417.2 L485.0 416.7Z"/>
<path fill="#fff" d="M467.0 392.0 L468.0 390.5 L471.0 389.5 L474.0 389.5 L475.0 391.0 L474.5 393.0 L473.5 394.5 L472.5 396.0 L473.0 399.0 L471.5 399.0 L471.0 395.5 L468.5 394.5Z"/>
<path fill="#fff" d="M640.0 613.7 L643.6 611.4 L647.4 609.6 L651.0 609.2 L650.7 610.5 L647.4 611.4 L644.2 613.1 L641.0 614.7Z"/>
<path fill="#fff" d="M667.0 611.4 L669.3 610.9 L671.2 613.7 L673.2 615.6 L672.9 617.6 L673.8 620.8 L673.2 623.0 L671.9 620.8 L669.3 619.5 L667.4 617.6 L666.5 614.4Z"/>
<path fill="#fff" d="M678.1 643.4 L678.3 642.7 L679.0 642.7 L680.8 645.3 L680.6 645.9 L679.9 645.9Z"/>
<path d="M171.2 421.2 L185.0 423.0 L210.0 427.5 L235.0 432.5 L260.0 438.8 L287.5 447.0 L310.0 454.5 L335.0 464.5 L360.0 475.0 L381.0 482.5 L400.0 488.8 L420.0 495.0 L440.0 500.0 L455.8 502.5" stroke="#000" stroke-width="1.9" fill="none" stroke-linejoin="round" stroke-dasharray="3.3 3.5"/>
<path d="M455.8 502.5 L475.0 504.3 L495.0 504.5 L515.0 503.8 L529.2 502.3" stroke="#000" stroke-width="1.9" fill="none" stroke-linejoin="round" stroke-dasharray="4.2 2.6"/>
<path d="M390.8 359.5 L405.0 368.8 L417.5 378.8 L430.0 390.0 L445.0 407.0 L460.0 423.8 L470.0 435.0 L480.0 447.0 L495.0 462.5 L509.2 479.2 L520.0 492.5 L529.2 502.3" stroke="#ffa500" stroke-width="1.35" fill="none" stroke-linejoin="round"/>
<path d="M421.8 269.2 L435.0 280.0 L447.5 292.5 L460.0 306.2 L470.0 317.5 L477.5 325.0 L480.0 330.0 L486.8 338.2 L495.0 352.5 L503.8 367.5 L512.5 385.0 L518.8 399.5 L523.6 410.0 L527.0 422.0 L529.0 430.0 L532.1 444.0 L533.7 458.0 L533.2 470.0 L531.9 483.6 L530.3 495.0 L529.2 502.3" stroke="#8a2be2" stroke-width="1.35" fill="none" stroke-linejoin="round"/>
<path d="M450.8 272.5 L460.0 282.5 L472.5 297.5 L485.0 312.5 L497.5 327.5 L505.5 336.0 L515.0 350.0 L522.5 365.0 L527.5 380.0 L530.8 394.2 L533.8 410.0 L534.7 424.3 L534.4 440.0" stroke="#ff0000" stroke-width="1.5" fill="none" stroke-linejoin="round" stroke-dasharray="4.2 3.4"/>
<path d="M486.8 297.5 L495.0 303.8 L505.0 310.0 L515.0 317.5 L521.2 325.0 L525.0 331.0 L529.4 337.5 L535.0 350.0 L538.8 362.5 L541.2 375.0 L542.5 390.0 L541.2 405.0 L539.3 421.4 L536.7 434.3 L534.3 445.7 L532.0 457.0 L530.6 471.4 L529.6 487.0 L529.2 502.3" stroke="#000" stroke-width="1.35" fill="none" stroke-linejoin="round"/>
<path d="M541.2 315.8 L547.5 321.2 L555.0 326.2 L560.8 330.8 L565.5 336.0 L570.0 343.0 L573.0 353.0 L572.5 362.0 L570.0 372.0 L567.5 377.5 L562.5 389.2 L558.5 399.0 L555.0 405.0 L551.0 411.0 L547.5 417.0 L544.5 424.0 L541.5 430.0 L539.0 436.0 L537.0 442.0 L535.2 449.0 L534.4 453.0" stroke="#0000ff" stroke-width="1.5" fill="none" stroke-linejoin="round" stroke-dasharray="4.2 3.4"/>
<path d="M560.8 330.8 L565.5 335.5 L570.0 342.0 L573.8 350.0 L575.0 358.8 L573.8 367.5 L570.0 377.5 L562.5 389.2 L557.0 400.0 L553.5 406.0 L550.0 411.0 L546.0 417.0 L542.5 423.0 L539.5 429.0 L536.5 435.0 L535.0 439.0 L533.5 445.0 L531.5 451.0 L529.5 458.0 L528.0 465.0 L526.7 475.7 L526.7 487.0 L528.6 500.0 L529.2 502.3" stroke="#ff0000" stroke-width="1.35" fill="none" stroke-linejoin="round"/>
<circle cx="171.2" cy="421.2" r="2.0" fill="#000"/>
<circle cx="287.5" cy="447.0" r="2.0" fill="#000"/>
<circle cx="381.0" cy="482.5" r="2.0" fill="#000"/>
<circle cx="455.8" cy="502.5" r="2.0" fill="#000"/>
<circle cx="390.8" cy="359.5" r="2.0" fill="#000"/>
<circle cx="445.0" cy="407.0" r="2.0" fill="#000"/>
<circle cx="480.0" cy="447.0" r="2.0" fill="#000"/>
<circle cx="509.2" cy="479.2" r="2.0" fill="#000"/>
<circle cx="421.8" cy="269.2" r="2.0" fill="#000"/>
<circle cx="486.8" cy="338.2" r="2.0" fill="#000"/>
<circle cx="518.8" cy="399.5" r="2.0" fill="#000"/>
<circle cx="533.1" cy="453.6" r="2.0" fill="#000"/>
<circle cx="450.8" cy="272.5" r="2.0" fill="#000"/>
<circle cx="505.5" cy="336.0" r="2.0" fill="#000"/>
<circle cx="530.8" cy="394.2" r="2.0" fill="#000"/>
<circle cx="534.6" cy="440.7" r="2.0" fill="#000"/>
<circle cx="486.8" cy="297.5" r="2.0" fill="#000"/>
<circle cx="529.4" cy="337.5" r="2.0" fill="#000"/>
<circle cx="542.5" cy="390.0" r="2.0" fill="#000"/>
<circle cx="535.0" cy="445.0" r="2.0" fill="#000"/>
<circle cx="541.2" cy="315.8" r="2.0" fill="#000"/>
<circle cx="565.5" cy="336.0" r="2.0" fill="#000"/>
<circle cx="567.5" cy="377.5" r="2.0" fill="#000"/>
<circle cx="541.9" cy="431.4" r="2.0" fill="#000"/>
<circle cx="560.8" cy="330.8" r="2.0" fill="#000"/>
<circle cx="573.8" cy="353.0" r="2.0" fill="#000"/>
<circle cx="562.5" cy="389.2" r="2.0" fill="#000"/>
<circle cx="529.2" cy="502.3" r="1.7" fill="#ff0000"/>
</g>
<path d="M59.8 127.0 H685.6 M59.8 646.7 H685.6" stroke="#000" stroke-width="1.7" fill="none" stroke-linecap="square"/>
<path d="M59.8 127.0 V646.7 M685.6 127.0 V646.7" stroke="#111" stroke-width="1.5" fill="none"/>
<path d="M69.1 646.7 v17 M69.1 127.0 v-17 M91.4 646.7 v9.5 M91.4 127.0 v-9.5 M113.6 646.7 v9.5 M113.6 127.0 v-9.5 M135.9 646.7 v9.5 M135.9 127.0 v-9.5 M158.2 646.7 v9.5 M158.2 127.0 v-9.5 M180.4 646.7 v17 M180.4 127.0 v-17 M202.7 646.7 v9.5 M202.7 127.0 v-9.5 M225.0 646.7 v9.5 M225.0 127.0 v-9.5 M247.3 646.7 v9.5 M247.3 127.0 v-9.5 M269.5 646.7 v9.5 M269.5 127.0 v-9.5 M291.8 646.7 v17 M291.8 127.0 v-17 M314.1 646.7 v9.5 M314.1 127.0 v-9.5 M336.3 646.7 v9.5 M336.3 127.0 v-9.5 M358.6 646.7 v9.5 M358.6 127.0 v-9.5 M380.9 646.7 v9.5 M380.9 127.0 v-9.5 M403.1 646.7 v17 M403.1 127.0 v-17 M425.4 646.7 v9.5 M425.4 127.0 v-9.5 M447.7 646.7 v9.5 M447.7 127.0 v-9.5 M470.0 646.7 v9.5 M470.0 127.0 v-9.5 M492.2 646.7 v9.5 M492.2 127.0 v-9.5 M514.5 646.7 v17 M514.5 127.0 v-17 M536.8 646.7 v9.5 M536.8 127.0 v-9.5 M559.0 646.7 v9.5 M559.0 127.0 v-9.5 M581.3 646.7 v9.5 M581.3 127.0 v-9.5 M603.6 646.7 v9.5 M603.6 127.0 v-9.5 M625.9 646.7 v17 M625.9 127.0 v-17 M648.1 646.7 v9.5 M648.1 127.0 v-9.5 M670.4 646.7 v9.5 M670.4 127.0 v-9.5" stroke="#111" stroke-width="1.35" fill="none"/>
<path d="M59.8 624.8 h-7 M685.6 624.8 h7 M59.8 596.4 h-7 M685.6 596.4 h7 M59.8 568.1 h-7 M685.6 568.1 h7 M59.8 539.7 h-7 M685.6 539.7 h7 M59.8 511.3 h-14 M685.6 511.3 h14 M59.8 482.9 h-7 M685.6 482.9 h7 M59.8 454.5 h-7 M685.6 454.5 h7 M59.8 426.2 h-7 M685.6 426.2 h7 M59.8 397.8 h-7 M685.6 397.8 h7 M59.8 369.4 h-14 M685.6 369.4 h14 M59.8 341.0 h-7 M685.6 341.0 h7 M59.8 312.6 h-7 M685.6 312.6 h7 M59.8 284.3 h-7 M685.6 284.3 h7 M59.8 255.9 h-7 M685.6 255.9 h7 M59.8 227.5 h-14 M685.6 227.5 h14 M59.8 199.1 h-7 M685.6 199.1 h7 M59.8 170.7 h-7 M685.6 170.7 h7 M59.8 142.4 h-7 M685.6 142.4 h7" stroke="#000" stroke-width="1.7" fill="none"/>
<text x="34.4" y="236.9" font-size="24.7" font-weight="normal" text-anchor="end" textLength="36.2" lengthAdjust="spacingAndGlyphs" xml:space="preserve" stroke="#000" stroke-width="0.45" >45N</text>
<text x="34.4" y="378.79999999999995" font-size="24.7" font-weight="normal" text-anchor="end" textLength="36.2" lengthAdjust="spacingAndGlyphs" xml:space="preserve" stroke="#000" stroke-width="0.45" >40N</text>
<text x="34.4" y="520.7" font-size="24.7" font-weight="normal" text-anchor="end" textLength="36.2" lengthAdjust="spacingAndGlyphs" xml:space="preserve" stroke="#000" stroke-width="0.45" >35N</text>
<text x="69.1" y="700.3" font-size="24.7" font-weight="normal" text-anchor="middle" textLength="10.8" lengthAdjust="spacingAndGlyphs" xml:space="preserve" stroke="#000" stroke-width="0.45" >5</text>
<text x="180.45" y="700.3" font-size="24.7" font-weight="normal" text-anchor="middle" textLength="21.8" lengthAdjust="spacingAndGlyphs" xml:space="preserve" stroke="#000" stroke-width="0.45" >10</text>
<text x="291.79999999999995" y="700.3" font-size="24.7" font-weight="normal" text-anchor="middle" textLength="21.8" lengthAdjust="spacingAndGlyphs" xml:space="preserve" stroke="#000" stroke-width="0.45" >15</text>
<text x="403.15" y="700.3" font-size="24.7" font-weight="normal" text-anchor="middle" textLength="21.8" lengthAdjust="spacingAndGlyphs" xml:space="preserve" stroke="#000" stroke-width="0.45" >20</text>
<text x="514.5" y="700.3" font-size="24.7" font-weight="normal" text-anchor="middle" textLength="21.8" lengthAdjust="spacingAndGlyphs" xml:space="preserve" stroke="#000" stroke-width="0.45" >25</text>
<text x="625.85" y="700.3" font-size="24.7" font-weight="normal" text-anchor="middle" textLength="21.8" lengthAdjust="spacingAndGlyphs" xml:space="preserve" stroke="#000" stroke-width="0.45" >30</text>
<text x="254.0" y="14.3" font-size="18" font-weight="bold" text-anchor="start" textLength="237.5" lengthAdjust="spacingAndGlyphs" xml:space="preserve" stroke="#000" stroke-width="0.3" >NOA FLEXWRF back-trajectories</text>
<text x="59.2" y="64.3" font-size="16.4" font-weight="bold" text-anchor="start" textLength="368.6" lengthAdjust="spacingAndGlyphs" xml:space="preserve" stroke="#000" stroke-width="0.3" >Backward trajectories ending at: 20140623  120000 UTC</text>
<text x="59.2" y="97.6" font-size="16.4" font-weight="bold" text-anchor="start" textLength="409.8" lengthAdjust="spacingAndGlyphs" xml:space="preserve" stroke="#000" stroke-width="0.3" >Markers every 6h - Colors denote trajectory height at receptor</text>
<path d="M710.7 578.7 H1017.1 M710.7 546.5 H1017.1 M710.7 514.2 H1017.1 M710.7 481.9 H1017.1 M710.7 449.6 H1017.1 M710.7 417.4 H1017.1 M710.7 385.1 H1017.1 M710.7 352.8 H1017.1 M710.7 320.6 H1017.1 M710.7 288.3 H1017.1 M710.7 256.0 H755.5 M710.7 223.8 H755.5 M710.7 191.5 H755.5 M710.7 159.2 H755.5" stroke="#222" stroke-width="1.2" stroke-dasharray="1.5 2.6" fill="none"/>
<defs><clipPath id="cc"><rect x="710.2" y="127.0" width="306.9" height="484.0"/></clipPath></defs>
<g clip-path="url(#cc)">
<path d="M710.2 254.3 L723.0 255.8 L735.7 257.8 L748.5 259.2 L761.3 260.6 L774.1 262.1 L786.9 263.5 L799.7 264.9 L812.5 265.8 L825.3 266.6 L838.1 266.6 L850.8 266.6 L863.6 268.6 L876.4 272.4 L889.2 276.1 L902.0 277.5 L914.8 278.7 L927.6 279.2 L940.4 282.1 L953.2 283.2 L966.0 283.2 L978.8 278.1 L991.6 276.4 L1004.3 281.5 L1017.1 288.1" stroke="#000" stroke-width="1.7" fill="none" stroke-linejoin="round" stroke-dasharray="8 2.6 2 2.6"/>
<path d="M710.2 353.7 L723.0 352.5 L735.7 353.7 L748.5 358.3 L761.3 360.6 L774.1 359.7 L786.9 362.6 L799.7 365.1 L812.5 366.3 L825.3 368.6 L838.1 368.6 L850.8 373.2 L863.6 379.5 L876.4 379.5 L889.2 378.6 L902.0 378.0 L914.8 378.9 L927.6 379.2 L940.4 379.5 L953.2 378.0 L966.0 378.9 L978.8 378.9 L991.6 379.2 L1004.3 379.7 L1017.1 384.9" stroke="#ffa500" stroke-width="1.7" fill="none" stroke-linejoin="round" stroke-dasharray="8 2.6 2 2.6"/>
<path d="M710.2 416.6 L723.0 417.8 L735.7 417.5 L748.5 419.5 L761.3 424.9 L774.1 431.5 L786.9 432.9 L799.7 436.9 L812.5 437.5 L825.3 441.0 L838.1 443.2 L850.8 446.1 L863.6 447.5 L876.4 451.8 L889.2 454.4 L902.0 455.0 L914.8 458.1 L927.6 461.9 L940.4 464.7 L953.2 465.3 L966.0 468.4 L978.8 471.0 L991.6 471.6 L1004.3 473.3 L1017.1 482.5" stroke="#8a2be2" stroke-width="1.7" fill="none" stroke-linejoin="round"/>
<path d="M710.2 451.0 L723.0 450.7 L735.7 450.7 L748.5 451.0 L761.3 453.6 L774.1 461.6 L786.9 468.4 L799.7 469.9 L812.5 470.2 L825.3 470.7 L838.1 472.5 L850.8 475.6 L863.6 480.2 L876.4 485.1 L889.2 485.6 L902.0 487.9 L914.8 491.4 L927.6 493.9 L940.4 498.5 L953.2 501.9 L966.0 504.2 L978.8 504.5 L991.6 504.5 L1004.3 504.5 L1017.1 514.5" stroke="#ff0000" stroke-width="1.7" fill="none" stroke-linejoin="round" stroke-dasharray="8 2.6 2 2.6"/>
<path d="M710.2 518.0 L723.0 518.0 L735.7 516.8 L748.5 509.7 L761.3 499.4 L774.1 504.8 L786.9 509.4 L799.7 513.1 L812.5 514.0 L825.3 514.0 L838.1 514.3 L850.8 516.6 L863.6 518.3 L876.4 522.6 L889.2 524.0 L902.0 525.1 L914.8 529.4 L927.6 534.3 L940.4 534.9 L953.2 538.0 L966.0 540.3 L978.8 541.5 L991.6 540.0 L1004.3 539.7 L1017.1 546.9" stroke="#000" stroke-width="1.7" fill="none" stroke-linejoin="round"/>
<path d="M710.2 562.4 L723.0 562.4 L735.7 561.8 L748.5 556.9 L761.3 546.6 L774.1 542.3 L786.9 543.2 L799.7 546.0 L812.5 547.5 L825.3 550.1 L838.1 551.5 L850.8 554.6 L863.6 556.9 L876.4 561.2 L889.2 564.7 L902.0 564.7 L914.8 567.0 L927.6 569.5 L940.4 572.1 L953.2 576.7 L966.0 574.7 L978.8 578.1 L991.6 579.3 L1004.3 578.7 L1017.1 578.7" stroke="#0000ff" stroke-width="1.7" fill="none" stroke-linejoin="round" stroke-dasharray="8 2.6 2 2.6"/>
<path d="M710.2 564.7 L723.0 564.7 L735.7 564.4 L748.5 560.9 L761.3 556.4 L774.1 556.1 L786.9 558.4 L799.7 560.1 L812.5 562.4 L825.3 564.9 L838.1 567.5 L850.8 570.7 L863.6 572.7 L876.4 575.8 L889.2 580.1 L902.0 582.4 L914.8 583.0 L927.6 587.6 L940.4 588.1 L953.2 593.9 L966.0 594.2 L978.8 595.0 L991.6 595.0 L1004.3 595.0 L1017.1 596.2" stroke="#ff0000" stroke-width="1.7" fill="none" stroke-linejoin="round"/>
</g>
<path d="M808.9 147.9 H885.5 M921.7 147.9 H959" stroke="#000" stroke-width="1.7" fill="none" stroke-dasharray="8 2.6 2 2.6"/>
<text x="889" y="154.9" font-size="17" font-weight="normal" text-anchor="start" textLength="29.3" lengthAdjust="spacingAndGlyphs" xml:space="preserve" stroke="#000" stroke-width="0.45" >10km</text>
<path d="M808.9 163.8 H885.5 M915.2 163.8 H959" stroke="#ffa500" stroke-width="1.7" fill="none" stroke-dasharray="8 2.6 2 2.6"/>
<text x="889" y="170.8" font-size="17" font-weight="normal" text-anchor="start" textLength="22.4" lengthAdjust="spacingAndGlyphs" xml:space="preserve" stroke="#000" stroke-width="0.45" >7km</text>
<path d="M808.9 179.9 H885.5 M915.2 179.9 H959" stroke="#8a2be2" stroke-width="1.7" fill="none"/>
<text x="889" y="186.9" font-size="17" font-weight="normal" text-anchor="start" textLength="22.4" lengthAdjust="spacingAndGlyphs" xml:space="preserve" stroke="#000" stroke-width="0.45" >4km</text>
<path d="M808.9 195.3 H885.5 M915.2 195.3 H959" stroke="#ff0000" stroke-width="1.7" fill="none" stroke-dasharray="8 2.6 2 2.6"/>
<text x="889" y="202.3" font-size="17" font-weight="normal" text-anchor="start" textLength="22.4" lengthAdjust="spacingAndGlyphs" xml:space="preserve" stroke="#000" stroke-width="0.45" >3km</text>
<path d="M808.9 210.4 H885.5 M915.2 210.4 H959" stroke="#000" stroke-width="1.7" fill="none"/>
<text x="889" y="217.4" font-size="17" font-weight="normal" text-anchor="start" textLength="22.4" lengthAdjust="spacingAndGlyphs" xml:space="preserve" stroke="#000" stroke-width="0.45" >2km</text>
<path d="M808.9 226.3 H885.5 M915.2 226.3 H959" stroke="#0000ff" stroke-width="1.7" fill="none" stroke-dasharray="8 2.6 2 2.6"/>
<text x="889" y="233.3" font-size="17" font-weight="normal" text-anchor="start" textLength="22.4" lengthAdjust="spacingAndGlyphs" xml:space="preserve" stroke="#000" stroke-width="0.45" >1km</text>
<path d="M808.9 242.5 H885.5 M925.6 242.5 H959" stroke="#ff0000" stroke-width="1.7" fill="none"/>
<text x="889" y="249.5" font-size="17" font-weight="normal" text-anchor="start" textLength="32.7" lengthAdjust="spacingAndGlyphs" xml:space="preserve" stroke="#000" stroke-width="0.45" >0.5km</text>
<path d="M710.2 127.0 H1017.1 M710.2 611.0 H1017.1" stroke="#000" stroke-width="1.5" fill="none" stroke-linecap="square"/>
<path d="M710.2 127.0 V611.0 M1017.1 127.0 V611.0" stroke="#333" stroke-width="1.15" fill="none"/>
<path d="M710.2 611.0 v12 M710.2 127.0 v-11 M723.0 611.0 v6.7 M723.0 127.0 v-6.5 M735.8 611.0 v6.7 M735.8 127.0 v-6.5 M748.6 611.0 v6.7 M748.6 127.0 v-6.5 M761.4 611.0 v6.7 M761.4 127.0 v-6.5 M774.1 611.0 v6.7 M774.1 127.0 v-6.5 M786.9 611.0 v12 M786.9 127.0 v-11 M799.7 611.0 v6.7 M799.7 127.0 v-6.5 M812.5 611.0 v6.7 M812.5 127.0 v-6.5 M825.3 611.0 v6.7 M825.3 127.0 v-6.5 M838.1 611.0 v6.7 M838.1 127.0 v-6.5 M850.9 611.0 v6.7 M850.9 127.0 v-6.5 M863.7 611.0 v12 M863.7 127.0 v-11 M876.4 611.0 v6.7 M876.4 127.0 v-6.5 M889.2 611.0 v6.7 M889.2 127.0 v-6.5 M902.0 611.0 v6.7 M902.0 127.0 v-6.5 M914.8 611.0 v6.7 M914.8 127.0 v-6.5 M927.6 611.0 v6.7 M927.6 127.0 v-6.5 M940.4 611.0 v12 M940.4 127.0 v-11 M953.2 611.0 v6.7 M953.2 127.0 v-6.5 M966.0 611.0 v6.7 M966.0 127.0 v-6.5 M978.7 611.0 v6.7 M978.7 127.0 v-6.5 M991.5 611.0 v6.7 M991.5 127.0 v-6.5 M1004.3 611.0 v6.7 M1004.3 127.0 v-6.5" stroke="#555" stroke-width="1.05" fill="none"/>
<path d="M1017.1 611.0 h7.7 M1017.1 604.5 h4.2 M1017.1 598.1 h4.2 M1017.1 591.6 h4.2 M1017.1 585.2 h4.2 M1017.1 578.7 h7.7 M1017.1 572.3 h4.2 M1017.1 565.8 h4.2 M1017.1 559.4 h4.2 M1017.1 552.9 h4.2 M1017.1 546.5 h7.7 M1017.1 540.0 h4.2 M1017.1 533.6 h4.2 M1017.1 527.1 h4.2 M1017.1 520.6 h4.2 M1017.1 514.2 h7.7 M1017.1 507.7 h4.2 M1017.1 501.3 h4.2 M1017.1 494.8 h4.2 M1017.1 488.4 h4.2 M1017.1 481.9 h7.7 M1017.1 475.5 h4.2 M1017.1 469.0 h4.2 M1017.1 462.6 h4.2 M1017.1 456.1 h4.2 M1017.1 449.6 h7.7 M1017.1 443.2 h4.2 M1017.1 436.7 h4.2 M1017.1 430.3 h4.2 M1017.1 423.8 h4.2 M1017.1 417.4 h7.7 M1017.1 410.9 h4.2 M1017.1 404.5 h4.2 M1017.1 398.0 h4.2 M1017.1 391.6 h4.2 M1017.1 385.1 h7.7 M1017.1 378.7 h4.2 M1017.1 372.2 h4.2 M1017.1 365.7 h4.2 M1017.1 359.3 h4.2 M1017.1 352.8 h7.7 M1017.1 346.4 h4.2 M1017.1 339.9 h4.2 M1017.1 333.5 h4.2 M1017.1 327.0 h4.2 M1017.1 320.6 h7.7 M1017.1 314.1 h4.2 M1017.1 307.7 h4.2 M1017.1 301.2 h4.2 M1017.1 294.8 h4.2 M1017.1 288.3 h7.7 M1017.1 281.8 h4.2 M1017.1 275.4 h4.2 M1017.1 268.9 h4.2 M1017.1 262.5 h4.2 M1017.1 256.0 h7.7 M1017.1 249.6 h4.2 M1017.1 243.1 h4.2 M1017.1 236.7 h4.2 M1017.1 230.2 h4.2 M1017.1 223.8 h7.7 M1017.1 217.3 h4.2 M1017.1 210.9 h4.2 M1017.1 204.4 h4.2 M1017.1 197.9 h4.2 M1017.1 191.5 h7.7 M1017.1 185.0 h4.2 M1017.1 178.6 h4.2 M1017.1 172.1 h4.2 M1017.1 165.7 h4.2 M1017.1 159.2 h7.7 M1017.1 152.8 h4.2 M1017.1 146.3 h4.2 M1017.1 139.9 h4.2 M1017.1 133.4 h4.2 M1017.1 126.9 h7.7" stroke="#000" stroke-width="1.4" fill="none"/>
<text x="1034.8" y="618.4" font-size="21" font-weight="normal" text-anchor="start" textLength="7.5" lengthAdjust="spacingAndGlyphs" xml:space="preserve" stroke="#000" stroke-width="0.45" >0</text>
<text x="1034.8" y="586.13" font-size="21" font-weight="normal" text-anchor="start" textLength="29.8" lengthAdjust="spacingAndGlyphs" xml:space="preserve" stroke="#000" stroke-width="0.45" >1000</text>
<text x="1034.8" y="553.86" font-size="21" font-weight="normal" text-anchor="start" textLength="29.8" lengthAdjust="spacingAndGlyphs" xml:space="preserve" stroke="#000" stroke-width="0.45" >2000</text>
<text x="1034.8" y="521.59" font-size="21" font-weight="normal" text-anchor="start" textLength="29.8" lengthAdjust="spacingAndGlyphs" xml:space="preserve" stroke="#000" stroke-width="0.45" >3000</text>
<text x="1034.8" y="489.31999999999994" font-size="21" font-weight="normal" text-anchor="start" textLength="29.8" lengthAdjust="spacingAndGlyphs" xml:space="preserve" stroke="#000" stroke-width="0.45" >4000</text>
<text x="1034.8" y="457.04999999999995" font-size="21" font-weight="normal" text-anchor="start" textLength="29.8" lengthAdjust="spacingAndGlyphs" xml:space="preserve" stroke="#000" stroke-width="0.45" >5000</text>
<text x="1034.8" y="424.78" font-size="21" font-weight="normal" text-anchor="start" textLength="29.8" lengthAdjust="spacingAndGlyphs" xml:space="preserve" stroke="#000" stroke-width="0.45" >6000</text>
<text x="1034.8" y="392.51" font-size="21" font-weight="normal" text-anchor="start" textLength="29.8" lengthAdjust="spacingAndGlyphs" xml:space="preserve" stroke="#000" stroke-width="0.45" >7000</text>
<text x="1034.8" y="360.23999999999995" font-size="21" font-weight="normal" text-anchor="start" textLength="29.8" lengthAdjust="spacingAndGlyphs" xml:space="preserve" stroke="#000" stroke-width="0.45" >8000</text>
<text x="1034.8" y="327.96999999999997" font-size="21" font-weight="normal" text-anchor="start" textLength="29.8" lengthAdjust="spacingAndGlyphs" xml:space="preserve" stroke="#000" stroke-width="0.45" >9000</text>
<text x="1034.8" y="295.69999999999993" font-size="21" font-weight="normal" text-anchor="start" textLength="37.3" lengthAdjust="spacingAndGlyphs" xml:space="preserve" stroke="#000" stroke-width="0.45" >10000</text>
<text x="1034.8" y="263.42999999999995" font-size="21" font-weight="normal" text-anchor="start" textLength="37.3" lengthAdjust="spacingAndGlyphs" xml:space="preserve" stroke="#000" stroke-width="0.45" >11000</text>
<text x="1034.8" y="231.16" font-size="21" font-weight="normal" text-anchor="start" textLength="37.3" lengthAdjust="spacingAndGlyphs" xml:space="preserve" stroke="#000" stroke-width="0.45" >12000</text>
<text x="1034.8" y="198.88999999999996" font-size="21" font-weight="normal" text-anchor="start" textLength="37.3" lengthAdjust="spacingAndGlyphs" xml:space="preserve" stroke="#000" stroke-width="0.45" >13000</text>
<text x="1034.8" y="166.61999999999998" font-size="21" font-weight="normal" text-anchor="start" textLength="37.3" lengthAdjust="spacingAndGlyphs" xml:space="preserve" stroke="#000" stroke-width="0.45" >14000</text>
<text x="1034.8" y="134.34999999999994" font-size="21" font-weight="normal" text-anchor="start" textLength="37.3" lengthAdjust="spacingAndGlyphs" xml:space="preserve" stroke="#000" stroke-width="0.45" >15000</text>
<text x="709.9000000000001" y="656.5" font-size="20.3" font-weight="normal" text-anchor="middle" textLength="19.7" lengthAdjust="spacingAndGlyphs" xml:space="preserve" stroke="#000" stroke-width="0.45" >-24</text>
<text x="786.6250000000001" y="656.5" font-size="20.3" font-weight="normal" text-anchor="middle" textLength="20.4" lengthAdjust="spacingAndGlyphs" xml:space="preserve" stroke="#000" stroke-width="0.45" >-18</text>
<text x="863.3500000000001" y="656.5" font-size="20.3" font-weight="normal" text-anchor="middle" textLength="20.4" lengthAdjust="spacingAndGlyphs" xml:space="preserve" stroke="#000" stroke-width="0.45" >-12</text>
<text x="940.075" y="656.5" font-size="20.3" font-weight="normal" text-anchor="middle" textLength="12.3" lengthAdjust="spacingAndGlyphs" xml:space="preserve" stroke="#000" stroke-width="0.45" >-6</text>
<text x="864" y="693.3" font-size="27" font-weight="normal" text-anchor="middle" textLength="58.4" lengthAdjust="spacingAndGlyphs" xml:space="preserve" stroke="#000" stroke-width="0.45" >time (h)</text>
<text x="709.4" y="113.0" font-size="16" font-weight="bold" text-anchor="start" textLength="316.3" lengthAdjust="spacingAndGlyphs" xml:space="preserve" stroke="#000" stroke-width="0.3" >FINOKALIA (lat=35.33,  lon=25.66), Date: 120000 UTC, 20140623</text>
<text transform="translate(1096,369.6) rotate(-90)" font-size="19" text-anchor="middle" textLength="122" lengthAdjust="spacingAndGlyphs" stroke="#fff" stroke-width="0.12" paint-order="fill stroke">height (m)</text>
</svg>
</body></html>
